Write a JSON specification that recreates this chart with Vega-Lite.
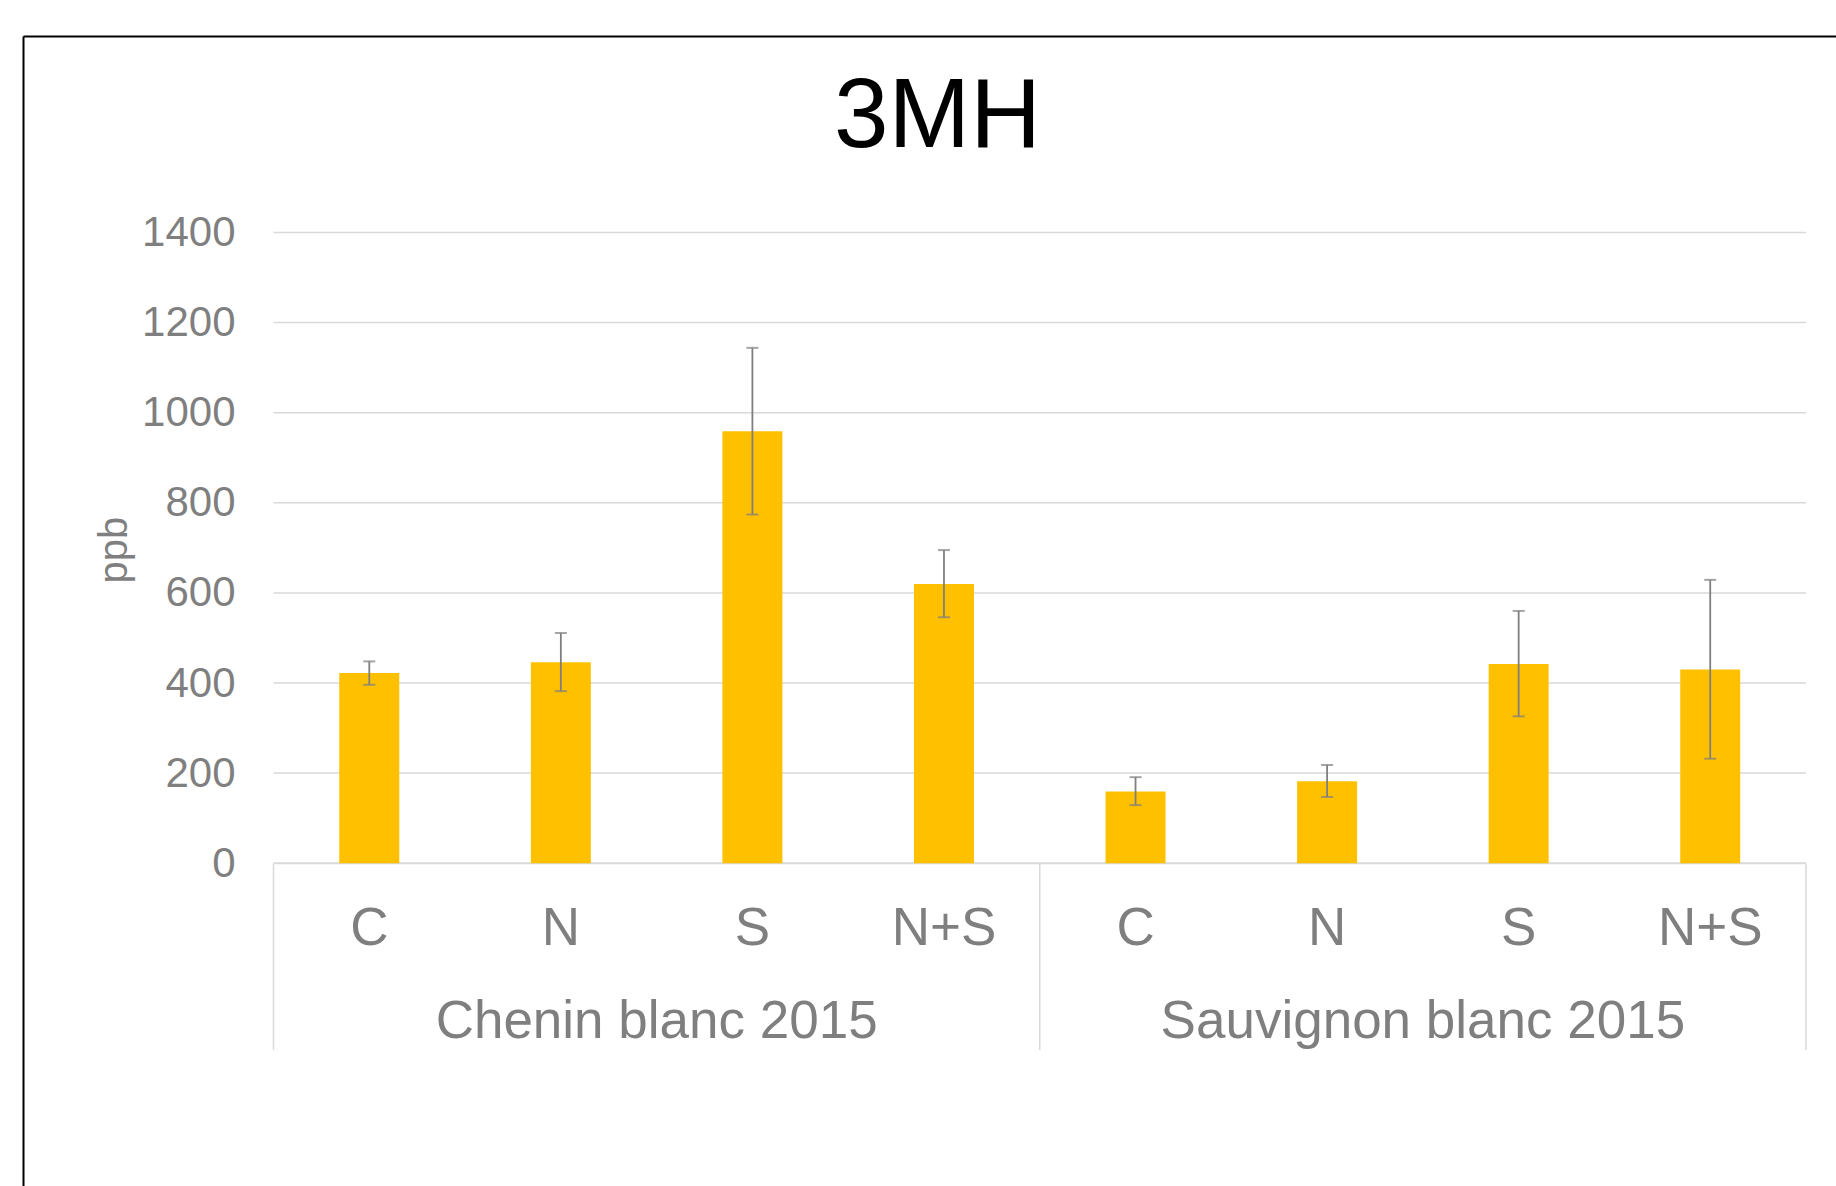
{
  "$schema": "https://vega.github.io/schema/vega-lite/v6.json",
  "autosize": {"type": "none"},
  "padding": {"left": 23, "top": 36, "right": 0, "bottom": 0},
  "width": 1813,
  "height": 1150,
  "background": "white",
  "config": {
    "view": {"stroke": null},
    "font": "Liberation Sans",
    "text": {"font": "Liberation Sans"}
  },
  "title": {
    "text": "3MH",
    "font": "Liberation Sans",
    "fontSize": 98,
    "fontWeight": "normal",
    "color": "black",
    "anchor": "middle",
    "frame": "group",
    "baseline": "alphabetic",
    "offset": -111,
    "dx": 8,
    "dy": 98
  },
  "datasets": {
    "bars": [
      {"variety": "Chenin blanc 2015", "treatment": "C", "ppb": 422, "lo": 396, "hi": 448},
      {"variety": "Chenin blanc 2015", "treatment": "N", "ppb": 446, "lo": 382, "hi": 511},
      {"variety": "Chenin blanc 2015", "treatment": "S", "ppb": 959, "lo": 774, "hi": 1144},
      {"variety": "Chenin blanc 2015", "treatment": "N+S", "ppb": 620, "lo": 546, "hi": 695},
      {"variety": "Sauvignon blanc 2015", "treatment": "C", "ppb": 159, "lo": 129, "hi": 191},
      {"variety": "Sauvignon blanc 2015", "treatment": "N", "ppb": 182, "lo": 147, "hi": 218},
      {"variety": "Sauvignon blanc 2015", "treatment": "S", "ppb": 442, "lo": 326, "hi": 560},
      {"variety": "Sauvignon blanc 2015", "treatment": "N+S", "ppb": 430, "lo": 232, "hi": 629}
    ],
    "groups": [
      {"variety": "Chenin blanc 2015"},
      {"variety": "Sauvignon blanc 2015"}
    ]
  },
  "encoding": {
    "x": {
      "field": "variety",
      "type": "nominal",
      "sort": null,
      "scale": {"paddingInner": 0, "paddingOuter": 0.183036, "align": 0.89305},
      "axis": {
        "orient": "top",
        "title": null,
        "labels": false,
        "ticks": false,
        "grid": false,
        "domain": true,
        "domainColor": "black",
        "domainWidth": 2
      }
    }
  },
  "layer": [
    {
      "data": {"values": [{}]},
      "encoding": {
        "x": {"datum": "Chenin blanc 2015", "bandPosition": 0},
        "x2": {"datum": "Sauvignon blanc 2015", "bandPosition": 1}
      },
      "layer": [
        {"mark": {"type": "rule", "color": "#d9d9d9", "strokeWidth": 1.5}, "encoding": {"y": {"datum": 200}}},
        {"mark": {"type": "rule", "color": "#d9d9d9", "strokeWidth": 1.5}, "encoding": {"y": {"datum": 400}}},
        {"mark": {"type": "rule", "color": "#d9d9d9", "strokeWidth": 1.5}, "encoding": {"y": {"datum": 600}}},
        {"mark": {"type": "rule", "color": "#d9d9d9", "strokeWidth": 1.5}, "encoding": {"y": {"datum": 800}}},
        {"mark": {"type": "rule", "color": "#d9d9d9", "strokeWidth": 1.5}, "encoding": {"y": {"datum": 1000}}},
        {"mark": {"type": "rule", "color": "#d9d9d9", "strokeWidth": 1.5}, "encoding": {"y": {"datum": 1200}}},
        {"mark": {"type": "rule", "color": "#d9d9d9", "strokeWidth": 1.5}, "encoding": {"y": {"datum": 1400}}},
        {"mark": {"type": "rule", "color": "#d9d9d9", "strokeWidth": 2}, "encoding": {"y": {"datum": 0}}}
      ]
    },
    {
      "data": {"name": "groups"},
      "mark": {"type": "rule", "color": "#d9d9d9", "strokeWidth": 1.5},
      "encoding": {
        "x": {"field": "variety", "type": "nominal", "bandPosition": 0},
        "y": {"datum": 0},
        "y2": {"datum": -414.6}
      }
    },
    {
      "data": {"values": [{}]},
      "mark": {"type": "rule", "color": "#d9d9d9", "strokeWidth": 1.5},
      "encoding": {
        "x": {"datum": "Sauvignon blanc 2015", "bandPosition": 1},
        "y": {"datum": 0},
        "y2": {"datum": -414.6}
      }
    },
    {
      "data": {"name": "bars"},
      "mark": {"type": "bar", "color": "#FFC000"},
      "encoding": {
        "xOffset": {"field": "treatment", "type": "nominal", "sort": ["C", "N", "S", "N+S"], "scale": {"paddingInner": 0.6868, "paddingOuter": 0.3434}},
        "y": {
          "field": "ppb",
          "type": "quantitative",
          "scale": {"domain": [-716.5, 1836.2], "nice": false, "zero": false},
          "axis": {
            "orient": "left",
            "values": [0, 200, 400, 600, 800, 1000, 1200, 1400],
            "format": "d",
            "grid": false,
            "ticks": false,
            "domain": true,
            "domainColor": "black",
            "domainWidth": 2,
            "labelPadding": -212,
            "labelFont": "Liberation Sans",
            "labelFontSize": 42,
            "labelColor": "#7f7f7f",
            "labelBaseline": "middle",
            "title": "ppb",
            "titleFont": "Liberation Sans",
            "titleFontSize": 40,
            "titleFontWeight": "normal",
            "titleColor": "#7f7f7f",
            "titleX": 91,
            "titleY": 513.5,
            "titleAngle": -90,
            "titleAlign": "center",
            "titleBaseline": "middle"
          }
        }
      }
    },
    {
      "data": {"name": "bars"},
      "mark": {"type": "rule", "color": "#7f7f7f", "strokeWidth": 1.8},
      "encoding": {
        "xOffset": {"field": "treatment", "type": "nominal", "sort": ["C", "N", "S", "N+S"]},
        "y": {"field": "lo", "type": "quantitative"},
        "y2": {"field": "hi"}
      }
    },
    {
      "data": {"name": "bars"},
      "mark": {"type": "tick", "color": "#7f7f7f", "size": 12, "thickness": 2, "orient": "horizontal"},
      "encoding": {
        "xOffset": {"field": "treatment", "type": "nominal", "sort": ["C", "N", "S", "N+S"]},
        "y": {"field": "lo", "type": "quantitative"}
      }
    },
    {
      "data": {"name": "bars"},
      "mark": {"type": "tick", "color": "#7f7f7f", "size": 12, "thickness": 2, "orient": "horizontal"},
      "encoding": {
        "xOffset": {"field": "treatment", "type": "nominal", "sort": ["C", "N", "S", "N+S"]},
        "y": {"field": "hi", "type": "quantitative"}
      }
    },
    {
      "data": {"name": "bars"},
      "mark": {"type": "text", "font": "Liberation Sans", "fontSize": 53, "color": "#7f7f7f", "align": "center", "baseline": "alphabetic"},
      "encoding": {
        "xOffset": {"field": "treatment", "type": "nominal", "sort": ["C", "N", "S", "N+S"]},
        "y": {"datum": -181.6},
        "text": {"field": "treatment"}
      }
    },
    {
      "data": {"name": "groups"},
      "mark": {"type": "text", "font": "Liberation Sans", "fontSize": 53, "color": "#7f7f7f", "align": "center", "baseline": "alphabetic"},
      "encoding": {
        "y": {"datum": -388.7},
        "text": {"field": "variety"}
      }
    }
  ]
}
